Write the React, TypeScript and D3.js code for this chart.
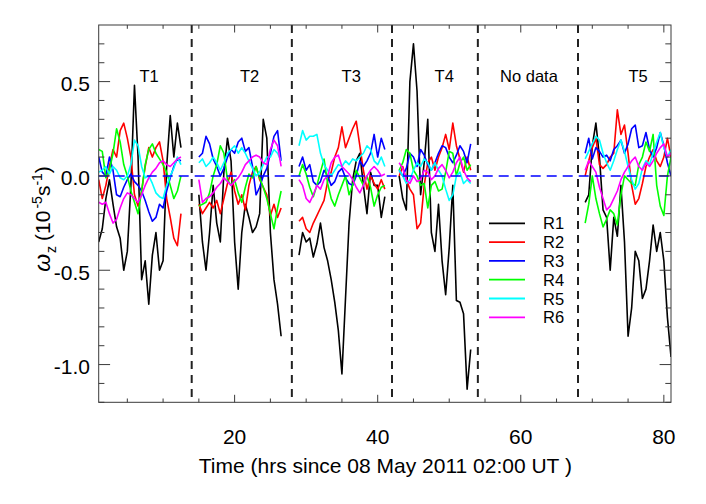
import React, { useEffect } from "react";
import * as d3 from "d3";

const seriesNames = ["R1", "R2", "R3", "R4", "R5", "R6"];
const seriesColors = ["#000000", "#ff0000", "#0000ff", "#00ff00", "#00ffff", "#ff00ff"];

// every track starts at these hours and is sampled each half hour
const segmentStarts = [1, 15, 29, 43, 69];
const sampleStep = 0.5;

// omega_z per track (T1..T5)
const r1 = [
  [-0.35, -0.28, -0.12, -0.02, -0.15, -0.27, -0.33, -0.5, -0.4, -0.05, 0.48, 0.1, -0.55, -0.45, -0.68, -0.42, -0.3, -0.5, -0.45, 0.05, 0.32, 0.1, 0.28, 0.15],
  [-0.1, -0.35, -0.5, -0.3, -0.05, -0.25, -0.35, 0.02, 0.2, 0.08, -0.35, -0.6, -0.3, -0.15, -0.22, -0.3, -0.27, -0.2, 0.3, 0.2, -0.3, -0.55, -0.68, -0.85],
  [-0.42, -0.3, -0.35, -0.33, -0.43, -0.36, -0.25, -0.38, -0.45, -0.55, -0.67, -0.82, -1.05, -0.65, -0.25, -0.02, 0.08, 0.12, -0.05, -0.2, 0.02, -0.05, -0.05, -0.22, -0.11],
  [0.0, -0.12, -0.18, 0.5, 0.7, 0.45, -0.1, 0.07, 0.3, -0.3, -0.4, -0.15, -0.45, -0.63, -0.38, -0.05, -0.66, -0.67, -0.73, -1.13, -0.92],
  [-0.14, -0.1, 0.16, 0.28, 0.1, -0.18, -0.22, -0.5, -0.22, -0.32, -0.05, -0.35, -0.85, -0.7, -0.4, -0.45, -0.65, -0.6, -0.45, -0.26, -0.4, -0.3, -0.45, -0.75, -0.96],
];
const r2 = [
  [-0.02, -0.12, -0.05, 0.05, 0.14, 0.1, 0.24, 0.28, 0.2, 0.1, -0.1, -0.16, -0.08, 0.05, 0.15, 0.1, 0.15, 0.18, 0.08, -0.12, -0.22, -0.33, -0.37, -0.2],
  [-0.15, -0.2, -0.17, -0.14, -0.17, -0.13, -0.2, -0.12, -0.04, 0.02, -0.08, -0.15, -0.1, -0.18, -0.05, 0.02, 0.05, -0.02, -0.06, -0.1, -0.21, -0.15, -0.22, -0.17],
  [-0.24, -0.22, -0.28, -0.3, -0.25, -0.21, -0.17, -0.13, -0.03, 0.02, 0.1, 0.15, 0.26, 0.15, 0.2, 0.25, 0.29, 0.16, 0.03, -0.07, 0.0, -0.04, -0.07, -0.02, -0.07],
  [0.0, 0.05, -0.02, -0.07, -0.1, -0.28, -0.25, -0.05, 0.07, 0.1, 0.03, 0.1, 0.15, 0.22, 0.14, 0.28, 0.16, 0.09, 0.02, 0.1, 0.03],
  [0.0, 0.08, 0.15, 0.2, 0.06, 0.04, 0.06, 0.1, 0.12, 0.35, 0.22, 0.27, 0.12, -0.05, -0.15, -0.12, -0.04, 0.05, 0.1, 0.14, 0.08, 0.05, 0.1, 0.2, 0.1],
];
const r3 = [
  [0.1, 0.02, 0.0, 0.1, 0.03, -0.1, -0.11, -0.06, -0.02, 0.01, -0.03, -0.05, -0.08, -0.13, -0.19, -0.24, -0.22, -0.15, -0.17, -0.08, -0.01, 0.05, 0.09, 0.08],
  [0.1, 0.12, 0.21, 0.17, 0.09, 0.05, 0.0, 0.04, 0.1, 0.14, 0.12, 0.18, 0.2, 0.13, 0.15, 0.05, -0.1, -0.06, 0.0, 0.04, 0.12, 0.21, 0.24, 0.08],
  [0.05, 0.1, 0.03, 0.06, -0.03, -0.05, -0.03, 0.03, 0.0, -0.05, -0.03, 0.02, 0.04, -0.01, -0.04, -0.05, 0.0, 0.08, 0.05, 0.08, 0.12, 0.22, 0.1, 0.2, 0.14],
  [0.03, 0.0, 0.04, 0.12, 0.1, 0.05, 0.14, 0.11, 0.06, 0.03, 0.07, 0.12, 0.16, 0.15, 0.1, 0.07, 0.11, 0.16, 0.13, 0.07, 0.17],
  [0.12, 0.2, 0.09, 0.15, 0.13, 0.1, 0.11, 0.08, 0.14, 0.16, 0.19, 0.12, 0.17, 0.25, 0.27, 0.15, 0.16, 0.23, 0.14, 0.1, 0.15, 0.23, 0.16, 0.07, 0.0],
];
const r4 = [
  [0.14, 0.13, -0.01, 0.03, 0.12, 0.25, 0.18, 0.06, 0.0, -0.08, -0.14, -0.2, -0.08, 0.06, 0.14, 0.17, 0.12, 0.09, 0.06, 0.02, -0.05, -0.12, -0.08, 0.0],
  [-0.16, -0.15, -0.14, -0.09, 0.0, 0.06, 0.16, 0.12, -0.02, -0.05, -0.02, -0.09, -0.14, -0.06, 0.01, -0.01, 0.05, -0.01, -0.06, -0.12, -0.2, -0.28, -0.17, -0.08],
  [0.0, 0.06, 0.01, -0.06, -0.11, -0.05, 0.02, 0.09, -0.04, -0.12, -0.16, -0.1, -0.05, 0.0, -0.1, -0.05, 0.03, -0.01, -0.05, 0.0, -0.06, -0.16, -0.1, -0.06, -0.05],
  [0.03, 0.07, 0.14, 0.12, 0.03, 0.0, -0.05, -0.04, -0.17, -0.05, -0.03, -0.08, -0.07, 0.02, 0.13, 0.12, 0.0, 0.07, 0.1, 0.03, 0.06],
  [-0.25, -0.15, 0.0, -0.12, -0.2, -0.27, -0.23, -0.18, -0.2, -0.26, -0.1, 0.0, -0.02, -0.04, -0.05, 0.06, 0.1, 0.18, 0.13, 0.22, -0.05, -0.16, -0.21, 0.0, 0.1],
];
const r5 = [
  [0.02, 0.03, 0.05, 0.01, 0.05, 0.03, -0.01, -0.02, 0.0, 0.06, 0.19, 0.16, 0.05, -0.01, 0.0, -0.04, -0.09, -0.11, -0.12, -0.05, 0.0, 0.04, 0.1, 0.06],
  [0.07, 0.09, 0.05, 0.07, 0.1, 0.07, 0.03, 0.07, 0.12, 0.14, 0.16, 0.12, 0.15, 0.12, 0.08, 0.04, 0.0, 0.02, 0.06, 0.1, 0.1, 0.14, 0.12, 0.08],
  [0.16, 0.24, 0.19, 0.21, 0.21, 0.22, 0.12, 0.06, 0.03, 0.0, 0.03, 0.06, 0.05, 0.08, 0.06, 0.09, 0.08, 0.1, 0.12, 0.16, 0.14, 0.08, 0.06, 0.1, 0.05],
  [0.03, 0.0, -0.04, -0.02, 0.03, 0.07, 0.05, 0.09, 0.07, 0.03, 0.07, 0.03, 0.0, -0.07, -0.13, -0.1, 0.0, 0.02, -0.04, -0.02, -0.04],
  [0.09, 0.13, 0.17, 0.21, 0.19, 0.12, 0.07, 0.03, 0.08, 0.14, 0.19, 0.13, 0.05, -0.02, -0.07, -0.04, 0.04, 0.08, 0.06, 0.12, 0.18, 0.23, 0.15, 0.1, 0.14],
];
const r6 = [
  [-0.14, -0.15, -0.14, -0.2, -0.25, -0.23, -0.17, -0.12, -0.09, -0.1, -0.12, -0.14, -0.1, -0.05, -0.01, 0.02, 0.04, 0.07, 0.08, 0.06, 0.05, 0.07, 0.09, 0.1],
  [-0.02, -0.14, -0.12, -0.11, -0.09, -0.06, -0.04, -0.01, -0.03, -0.05, -0.03, -0.01, 0.02, 0.06, 0.08, 0.1, 0.11, 0.1, 0.07, 0.06, 0.14, 0.19, 0.16, 0.05],
  [-0.02, -0.05, -0.12, -0.14, -0.1, -0.05, -0.07, -0.02, 0.0, 0.07, 0.1, 0.11, 0.05, 0.03, 0.01, -0.02, -0.06, -0.09, -0.05, 0.0, 0.03, 0.05, 0.03, 0.0, 0.01],
  [0.07, 0.04, -0.02, -0.04, 0.0, -0.03, -0.02, 0.03, 0.02, -0.02, 0.0, 0.04, 0.06, 0.03, -0.01, 0.02, 0.07, 0.1, 0.03, -0.01, -0.03],
  [0.03, 0.08, 0.05, 0.02, -0.06, -0.12, -0.18, -0.16, -0.12, -0.08, -0.02, 0.02, 0.05, 0.08, 0.1, 0.05, 0.03, 0.07, 0.05, 0.08, 0.12, 0.15, 0.17, 0.1, 0.12],
];
const seriesValues = [r1, r2, r3, r4, r5, r6];

const periodBounds = [14, 28, 42, 54, 68];
const periodLabels = ["T1", "T2", "T3", "T4", "No data", "T5"];
const periodLabelHours = [8.05, 22.1, 36.3, 49.3, 61.15, 76.4];

const xTickLabels = [20, 40, 60, 80];
const yTickLabels = [-1.0, -0.5, 0.0, 0.5];

const W = 706;
const H = 504;
const FONT = "'Liberation Sans', Arial, Helvetica, sans-serif";

export default function App() {
  useEffect(() => {
    document.body.style.margin = "0";
  }, []);

  const left = 98.7;
  const right = 671;
  const top = 25;
  const bottom = 402.3;

  const x = d3.scaleLinear().domain([1, 81]).range([left, right]);
  const y = d3.scaleLinear().domain([-1.2, 0.8]).range([bottom, top]);

  const line = d3
    .line<[number, number]>()
    .x((d) => x(d[0]))
    .y((d) => y(d[1]));

  // ticks: IDL style, inward on all four sides
  const xMinor = d3.range(5, 81, 5);
  const yMinor = d3.range(-12, 8).map((v) => v / 10);
  const axisColor = "#3a3a3a";

  const legendX0 = 489;
  const legendX1 = 525;
  const legendTextX = 543;
  const legendY0 = 223.3;
  const legendGap = 18.8;

  return (
    <svg
      width={W}
      height={H}
      style={{ position: "absolute", left: 0, top: 0, background: "#fff" }}
      fontFamily={FONT}
    >
      <defs>
        <clipPath id="plotClip">
          <rect x={left} y={top} width={right - left} height={bottom - top} />
        </clipPath>
      </defs>

      {/* data */}
      <g clipPath="url(#plotClip)" fill="none" strokeWidth={1.6} strokeLinejoin="round">
        {seriesValues.map((segs, s) =>
          segs.map((vals, k) => (
            <path
              key={`${s}-${k}`}
              stroke={seriesColors[s]}
              d={line(vals.map((v, i) => [segmentStarts[k] + i * sampleStep, v])) || ""}
            />
          ))
        )}
      </g>

      {/* zero line */}
      <line
        x1={left}
        x2={right}
        y1={y(0)}
        y2={y(0)}
        stroke="#0000ff"
        strokeWidth={1.5}
        strokeDasharray="10,6"
      />

      {/* period boundaries */}
      {periodBounds.map((b) => (
        <line
          key={b}
          x1={x(b)}
          x2={x(b)}
          y1={top}
          y2={bottom}
          stroke="#222"
          strokeWidth={2}
          strokeDasharray="8,6"
        />
      ))}

      {/* period labels */}
      {periodLabels.map((t, i) => (
        <text
          key={t}
          x={x(periodLabelHours[i])}
          y={y(0.5)}
          textAnchor="middle"
          fontSize={16.5}
          fill="#000"
        >
          {t}
        </text>
      ))}

      {/* legend */}
      {seriesNames.map((n, i) => (
        <g key={n}>
          <line
            x1={legendX0}
            x2={legendX1}
            y1={legendY0 + i * legendGap}
            y2={legendY0 + i * legendGap}
            stroke={seriesColors[i]}
            strokeWidth={1.8}
          />
          <text x={legendTextX} y={legendY0 + i * legendGap + 6} fontSize={16.5} fill="#000">
            {n}
          </text>
        </g>
      ))}

      {/* frame */}
      <rect
        x={left}
        y={top}
        width={right - left}
        height={bottom - top}
        fill="none"
        stroke={axisColor}
        strokeWidth={1}
      />

      {/* x ticks */}
      {xMinor.map((v) => {
        const len = v % 20 === 0 ? 7.5 : 3.8;
        return (
          <g key={`xt${v}`} stroke={axisColor} strokeWidth={1}>
            <line x1={x(v)} x2={x(v)} y1={bottom} y2={bottom - len} />
            <line x1={x(v)} x2={x(v)} y1={top} y2={top + len} />
          </g>
        );
      })}

      {/* y ticks */}
      {yMinor.map((v) => {
        const len = Math.abs(Math.round(v * 10)) % 5 === 0 ? 11.4 : 5.7;
        return (
          <g key={`yt${v}`} stroke={axisColor} strokeWidth={1}>
            <line x1={left} x2={left + len} y1={y(v)} y2={y(v)} />
            <line x1={right} x2={right - len} y1={y(v)} y2={y(v)} />
          </g>
        );
      })}

      {/* tick labels */}
      {xTickLabels.map((v) => (
        <text key={`xl${v}`} x={x(v)} y={444} textAnchor="middle" fontSize={21} fill="#000">
          {v}
        </text>
      ))}
      {yTickLabels.map((v) => (
        <text key={`yl${v}`} x={left - 8.7} y={y(v) + 9.5} textAnchor="end" fontSize={21} fill="#000">
          {v.toFixed(1)}
        </text>
      ))}

      {/* axis titles */}
      <text x={(left + right) / 2 + 0.5} y={473} textAnchor="middle" fontSize={21} fill="#000">
        Time (hrs since 08 May 2011 02:00 UT )
      </text>
      <text transform="translate(50,219) rotate(-90)" textAnchor="middle" fontSize={21} fill="#000">
        <tspan fontStyle="italic" fontSize={23}>ω</tspan>
        <tspan fontSize={14} dy={6} dx={1}>z</tspan>
        <tspan dy={-6} dx={5}>(10</tspan>
        <tspan fontSize={14} dy={-8} dx={2}>-5</tspan>
        <tspan dy={8}>s</tspan>
        <tspan fontSize={14} dy={-8}>-1</tspan>
        <tspan dy={8}>)</tspan>
      </text>
    </svg>
  );
}
